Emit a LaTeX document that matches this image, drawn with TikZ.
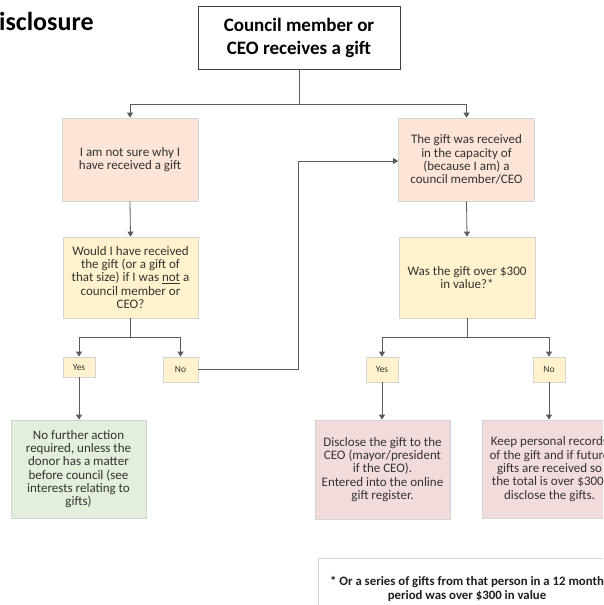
\documentclass[tikz,border=0pt]{standalone}
\usepackage{fontspec}
\setmainfont{Carlito}
\usetikzlibrary{arrows.meta,calc}
\definecolor{salmon}{HTML}{FCE4D6}
\definecolor{yel}{HTML}{FFF2CC}
\definecolor{grn}{HTML}{E2EFDA}
\definecolor{pnk}{HTML}{F2DCDB}
\definecolor{edge}{HTML}{D4D4D4}
\definecolor{txt}{HTML}{333333}
\definecolor{ln}{HTML}{5A5A5A}
\tikzset{
  box/.style={draw=edge, line width=0.8pt, align=center, inner sep=0pt, text=txt,
    font=\fontsize{13}{13.3}\selectfont},
  small/.style={font=\fontsize{9.5}{11}\selectfont},
  conn/.style={draw=ln, line width=0.8pt},
  arr/.style={conn, -{Triangle[width=6pt,length=5pt]}},
}
\begin{document}
\begin{tikzpicture}[x=1pt,y=-1pt]
\useasboundingbox (0,0) rectangle (603,605);
\clip (0,0) rectangle (603,605);
\fill[white] (0,0) rectangle (603,605);

\node[anchor=base west, inner sep=0pt, font=\fontsize{26}{30}\selectfont\bfseries] (title) at (-1,30) {isclosure};

\node[draw=black!75, line width=0.9pt, fill=white, minimum width=202pt, minimum height=63pt, align=center, inner sep=0pt,
  font=\fontsize{19}{23}\selectfont\bfseries] (top) at (299,37.5) {Council member or\\CEO receives a gift};

\node[box, fill=salmon, minimum width=136pt, minimum height=83pt] (a1) at (130,159.5) {I am not sure why I\\have received a gift};
\node[box, fill=yel, minimum width=135pt, minimum height=81pt] (a2) at (130.5,277.5) {Would I have received\\the gift (or a gift of\\that size) if I was \underline{not} a\\council member or\\CEO?};
\node[box, small, fill=yel, minimum width=32pt, minimum height=20pt] (yesL) at (79,367) {Yes};
\node[box, small, fill=yel, minimum width=35pt, minimum height=25pt] (noL) at (180.5,369.5) {No};
\node[box, fill=grn, minimum width=135pt, minimum height=98pt] (endL) at (78.5,469) {No further action\\required, unless the\\donor has a matter\\before council (see\\interests relating to\\gifts)};

\node[box, fill=salmon, minimum width=136pt, minimum height=83pt] (b1) at (466.5,159.5) {The gift was received\\in the capacity of\\(because I am) a\\council member/CEO};
\node[box, fill=yel, minimum width=136pt, minimum height=81pt] (b2) at (467,277.5) {Was the gift over \$300\\in value?*};
\node[box, small, fill=yel, minimum width=32pt, minimum height=25pt] (yesR) at (382,369.5) {Yes};
\node[box, small, fill=yel, minimum width=32pt, minimum height=25pt] (noR) at (549,369.5) {No};
\node[box, fill=pnk, minimum width=135pt, minimum height=99pt] (endR1) at (382.5,469.5) {Disclose the gift to the\\CEO (mayor/president\\if the CEO).\\Entered into the online\\gift register.};
\node[box, fill=pnk, minimum width=135pt, minimum height=98pt] (endR2) at (549.5,469) {Keep personal records\\of the gift and if future\\gifts are received so\\the total is over \$300,\\disclose the gifts.};

\node[box, fill=white, text=black!88, minimum width=298pt, minimum height=62pt, font=\fontsize{12.8}{14}\selectfont\bfseries] (note) at (467,589) {* Or a series of gifts from that person in a 12 month\\period was over \$300 in value};

% connectors
\coordinate (j1) at (299,104);
\draw[conn] (top.south) -- (j1);
\draw[arr] (j1) -| (a1.north);
\draw[arr] (j1) -| (b1.north);
\draw[arr] (a1.south) -- (a2.north);
\draw[arr] (b1.south) -- (b2.north);

\coordinate (j2) at (130.5,337);
\draw[conn] (a2.south) -- (j2);
\draw[arr] (j2) -| (yesL.north);
\draw[arr] (j2) -| (noL.north);

\coordinate (j3) at (467,337);
\draw[conn] (b2.south) -- (j3);
\draw[arr] (j3) -| (yesR.north);
\draw[arr] (j3) -| (noR.north);

\coordinate (k) at (298,161);
\draw[arr] (noL.east) -| (k) -- (k -| b1.west);

\draw[arr] (yesL.south) -- (yesL.south |- endL.north);
\draw[arr] (yesR.south) -- (yesR.south |- endR1.north);
\draw[arr] (noR.south) -- (noR.south |- endR2.north);
\end{tikzpicture}
\end{document}
